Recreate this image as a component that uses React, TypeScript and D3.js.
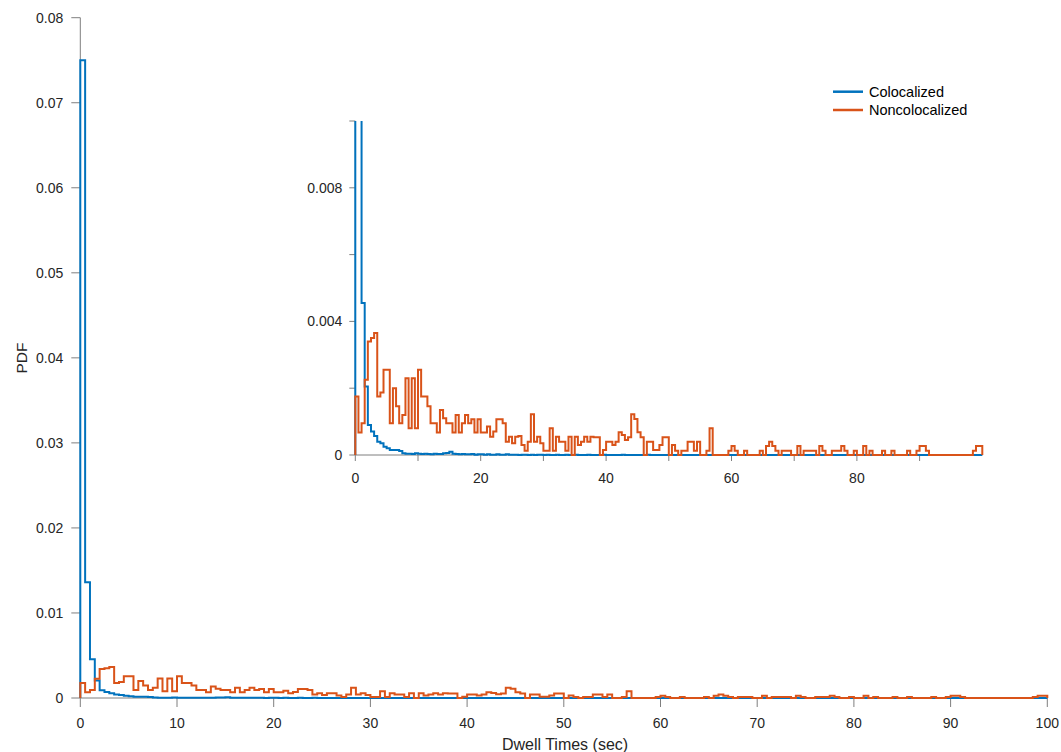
import React from "react";
import * as d3 from "d3";

// Histogram bins: width 0.5 s, from 0 to 100 s (200 bins)
const BIN_WIDTH = 0.5;
const X_MAX = 100;

const colocalized: number[] = [
  0.075, 0.0136, 0.00455, 0.00205, 0.0009, 0.0007, 0.00057, 0.0004, 0.00035, 0.00025,
  0.0002, 0.00015, 0.00015, 0.00015, 0.00012, 0.00005, 0.00004, 0.00004, 0.00003, 0.00005,
  0.00004, 0.00003, 0.00004, 0.00003, 0.00002, 0.00004, 0.00003, 0.00003, 0.00005, 0.00006,
  0.0001, 0.00004, 0.00003, 0.00002, 0.00003, 0.00002, 0.00002, 0.00003, 0.00001, 0.00002,
  0.00002, 0.00001, 0.00002, 0.00001, 0.00001, 0.00002, 0.00001, 0.00001, 0.00002, 0.00001,
  0.00001, 0.00001, 0, 0.00001, 0.00001, 0, 0.00001, 0, 0.00001, 0.00001,
  0, 0.00001, 0, 0, 0.00001, 0, 0, 0.00001, 0, 0,
  0.00001, 0, 0, 0, 0.00001, 0, 0, 0, 0, 0.00001,
  0, 0, 0, 0, 0, 0.00001, 0, 0, 0, 0,
  0, 0, 0, 0.00001, 0, 0, 0, 0, 0, 0,
  0, 0, 0, 0, 0, 0, 0, 0, 0, 0,
  0, 0, 0, 0, 0, 0, 0, 0, 0, 0,
  0, 0, 0, 0, 0, 0, 0, 0, 0, 0,
  0, 0, 0, 0, 0, 0, 0, 0, 0, 0,
  0, 0, 0, 0, 0, 0, 0, 0, 0, 0,
  0, 0, 0, 0, 0, 0, 0, 0, 0, 0,
  0, 0, 0, 0, 0, 0, 0, 0, 0, 0,
  0, 0, 0, 0, 0, 0, 0, 0, 0, 0,
  0, 0, 0, 0, 0, 0, 0, 0, 0, 0,
  0, 0, 0, 0, 0, 0, 0, 0, 0, 0,
];

const noncolocalized: number[] = [
  0.00175, 0.00067, 0.00095, 0.00225, 0.0034, 0.0035, 0.00365, 0.00175, 0.00187, 0.00255,
  0.00255, 0.00095, 0.002, 0.00146, 0.00095, 0.0012, 0.0023, 0.0008, 0.0023, 0.0008,
  0.00255, 0.00175, 0.00175, 0.00146, 0.00095, 0.00095, 0.00067, 0.00135, 0.0011, 0.00095,
  0.00095, 0.00067, 0.0012, 0.00067, 0.00095, 0.0012, 0.00095, 0.00107, 0.00067, 0.00107,
  0.00067, 0.00067, 0.00085, 0.00055, 0.0007, 0.00107, 0.00107, 0.00095, 0.0004, 0.00055,
  0.00035, 0.00055, 0.00057, 0.0003, 0.00013, 0.0004, 0.00122, 0.0004, 0.00055, 0.00035,
  0.00013, 0.00013, 0.0008, 0.00013, 0.00055, 0.0004, 0.0004, 0.00013, 0.00055, 0,
  0.00055, 0.0003, 0.0004, 0.00055, 0.0004, 0.00055, 0.00053, 0.00053, 0, 0.00015,
  0.0004, 0.0004, 0.0003, 0.0004, 0.00068, 0.0006, 0.00045, 0.00053, 0.00122, 0.00108,
  0.00068, 0.00053, 0, 0.0004, 0.0004, 0.00015, 0.00015, 0.0003, 0.00053, 0.00053,
  0, 0.0003, 0.00013, 0, 0.00013, 0.00013, 0.0004, 0.0004, 0.00013, 0.0004,
  0, 0, 0.00013, 0.0008, 0, 0, 0, 0, 0, 0.00013,
  0.00027, 0.00013, 0, 0, 0.00013, 0, 0, 0, 0, 0.00013,
  0, 0.00027, 0.0004, 0.00027, 0.00013, 0, 0.00013, 0.00013, 0.00013, 0,
  0, 0.00027, 0, 0.00013, 0.00013, 0.00013, 0.00013, 0, 0.00027, 0.00013,
  0, 0, 0.00013, 0.00013, 0.00013, 0.00027, 0.00013, 0, 0, 0.00013,
  0, 0, 0.00027, 0, 0.00013, 0, 0, 0, 0.00013, 0,
  0, 0.00013, 0, 0, 0, 0, 0.00013, 0, 0, 0.00013,
  0.00027, 0.00027, 0.00013, 0, 0, 0, 0, 0, 0, 0,
  0, 0, 0, 0, 0, 0, 0, 0.00013, 0.00027, 0.00027,
];

const seriesNames = ["Colocalized", "Noncolocalized"];
const seriesColors = ["#0072BD", "#D95319"];

const mainXTicks = [0, 10, 20, 30, 40, 50, 60, 70, 80, 90, 100];
const mainYTicks = [0, 0.01, 0.02, 0.03, 0.04, 0.05, 0.06, 0.07, 0.08];
const insetXTicks = [0, 10, 20, 30, 40, 50, 60, 70, 80, 90];
const insetXLabels = [0, 20, 40, 60, 80];
const insetYTicks = [0, 0.002, 0.004, 0.006, 0.008, 0.01];
const insetYLabels = [0, 0.004, 0.008];

const FONT = "'Liberation Sans', Arial, Helvetica, sans-serif";
const AXIS = "#7f7f7f";
const TEXT = "#262626";

function stairPath(values: number[], x: d3.ScaleLinear<number, number>, y: d3.ScaleLinear<number, number>) {
  const pts: [number, number][] = [[0, 0]];
  values.forEach((v, i) => pts.push([i * BIN_WIDTH, v]));
  pts.push([X_MAX, values[values.length - 1]]);
  pts.push([X_MAX, 0]);
  const line = d3
    .line<[number, number]>()
    .x((d) => x(d[0]))
    .y((d) => y(d[1]))
    .curve(d3.curveStepAfter);
  return line(pts) || "";
}

const fmt = (v: number) => (v === 0 ? "0" : String(+v.toFixed(4)));

export default function App() {
  const W = 1061;
  const H = 752;

  // main axes
  const mx = d3.scaleLinear().domain([0, 100]).range([80.3, 1047.3]);
  const my = d3.scaleLinear().domain([0, 0.08]).range([698, 17.7]);

  // inset axes
  const ix = d3.scaleLinear().domain([0, 100]).range([355.3, 982.3]);
  const iy = d3.scaleLinear().domain([0, 0.01]).range([455, 121]);

  const series = [colocalized, noncolocalized];

  return (
    <svg
      width={W}
      height={H}
      style={{ position: "absolute", left: 0, top: 0, background: "#fff" }}
      fontFamily={FONT}
    >
      <defs>
        <clipPath id="mainClip">
          <rect x={mx(0) - 2} y={my(0.08)} width={mx(100) - mx(0) + 4} height={my(0) - my(0.08) + 2} />
        </clipPath>
        <clipPath id="insetClip">
          <rect x={ix(0) - 2} y={iy(0.01)} width={ix(100) - ix(0) + 4} height={iy(0) - iy(0.01) + 2} />
        </clipPath>
      </defs>

      {/* Main axes */}
      <g>
        <line x1={mx(0)} x2={mx(0)} y1={my(0.08)} y2={my(0)} stroke={AXIS} strokeWidth={1} />
        <line x1={mx(0)} x2={mx(100)} y1={my(0)} y2={my(0)} stroke={AXIS} strokeWidth={1} />
        {mainYTicks.map((t) => (
          <g key={"my" + t}>
            <line x1={mx(0) - 9} x2={mx(0)} y1={my(t)} y2={my(t)} stroke={AXIS} strokeWidth={1} />
            <text x={mx(0) - 17} y={my(t)} dy="0.35em" textAnchor="end" fontSize={14} fill={TEXT}>
              {fmt(t)}
            </text>
          </g>
        ))}
        {mainXTicks.map((t) => (
          <g key={"mx" + t}>
            <line x1={mx(t)} x2={mx(t)} y1={my(0)} y2={my(0) + 9} stroke={AXIS} strokeWidth={1} />
            <text x={mx(t)} y={728} textAnchor="middle" fontSize={14} fill={TEXT}>
              {t}
            </text>
          </g>
        ))}
        <text x={565} y={750} textAnchor="middle" fontSize={16} fill={TEXT}>
          Dwell Times (sec)
        </text>
        <text
          transform={`translate(27,358) rotate(-90)`}
          textAnchor="middle"
          fontSize={15.5}
          fill={TEXT}
        >
          PDF
        </text>
      </g>

      {/* Main data */}
      <g clipPath="url(#mainClip)">
        {series.map((s, i) => (
          <path key={i} d={stairPath(s, mx, my)} fill="none" stroke={seriesColors[i]} strokeWidth={2} />
        ))}
      </g>

      {/* Inset axes */}
      <g>
        <line x1={ix(0)} x2={ix(0)} y1={iy(0.01)} y2={iy(0)} stroke={AXIS} strokeWidth={1} />
        <line x1={ix(0)} x2={ix(100)} y1={iy(0)} y2={iy(0)} stroke={AXIS} strokeWidth={1} />
        {insetYTicks.map((t) => (
          <line key={"iyt" + t} x1={ix(0) - 6} x2={ix(0)} y1={iy(t)} y2={iy(t)} stroke={AXIS} strokeWidth={1} />
        ))}
        {insetYLabels.map((t) => (
          <text key={"iyl" + t} x={ix(0) - 13} y={iy(t)} dy="0.35em" textAnchor="end" fontSize={14} fill={TEXT}>
            {fmt(t)}
          </text>
        ))}
        {insetXTicks.map((t) => (
          <line key={"ixt" + t} x1={ix(t)} x2={ix(t)} y1={iy(0)} y2={iy(0) + 6} stroke={AXIS} strokeWidth={1} />
        ))}
        {insetXLabels.map((t) => (
          <text key={"ixl" + t} x={ix(t)} y={483} textAnchor="middle" fontSize={14} fill={TEXT}>
            {t}
          </text>
        ))}
      </g>

      {/* Inset data */}
      <g clipPath="url(#insetClip)">
        {series.map((s, i) => (
          <path key={i} d={stairPath(s, ix, iy)} fill="none" stroke={seriesColors[i]} strokeWidth={2} />
        ))}
      </g>

      {/* Legend */}
      <g>
        {seriesNames.map((n, i) => (
          <g key={n} transform={`translate(833,${91.7 + i * 18.3})`}>
            <line x1={0} x2={30} y1={0} y2={0} stroke={seriesColors[i]} strokeWidth={2.5} />
            <text x={36} y={0} dy="0.35em" fontSize={14.5} fill="#000">
              {n}
            </text>
          </g>
        ))}
      </g>
    </svg>
  );
}
